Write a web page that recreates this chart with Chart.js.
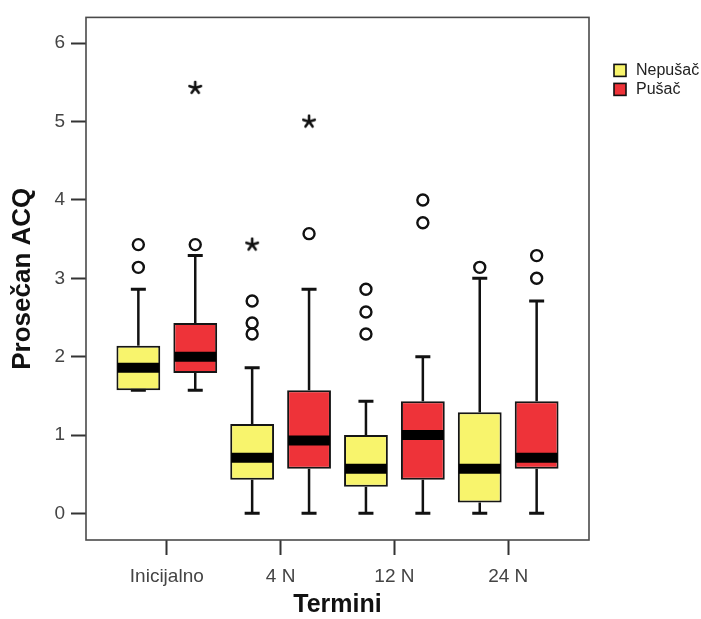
<!DOCTYPE html>
<html>
<head>
<meta charset="utf-8">
<script src="https://cdn.jsdelivr.net/npm/chart.js@4.4.0/dist/chart.umd.min.js"></script>
<style>
  html, body { margin: 0; padding: 0; background: #fff; }
</style>
</head>
<body>
<canvas id="acq" width="701" height="619"></canvas>
<script>
const categories = ['Inicijalno', '4 N', '12 N', '24 N'];
const seriesNames = ['Nepušač', 'Pušač'];
const seriesColors = ['#f8f46c', '#ee3339'];

// Nepušač: whisker ends, quartiles, median, outliers (o) and extremes (*)
const nMin = [1.57, 0, 0, 0];
const nQ1 = [1.57, 0.43, 0.34, 0.14];
const nMed = [1.86, 0.71, 0.57, 0.57];
const nQ3 = [2.14, 1.14, 1.0, 1.29];
const nMax = [2.86, 1.86, 1.43, 3.0];
const nOut = [[3.43, 3.14], [2.71, 2.43, 2.29], [2.86, 2.57, 2.29], [3.14]];
const nExt = [[], [3.43], [], []];

// Pušač
const pMin = [1.57, 0, 0, 0];
const pQ1 = [1.79, 0.57, 0.43, 0.57];
const pMed = [2.0, 0.93, 1.0, 0.71];
const pQ3 = [2.43, 1.57, 1.43, 1.43];
const pMax = [3.29, 2.86, 2.0, 2.71];
const pOut = [[3.43], [3.57], [4.0, 3.71], [3.29, 3.0]];
const pExt = [[5.43], [5.0], [], []];

const yTicks = [0, 1, 2, 3, 4, 5, 6];

const family = '"Liberation Sans", Arial, sans-serif';

const sets = [
  { label: seriesNames[0], color: seriesColors[0], min: nMin, q1: nQ1, med: nMed, q3: nQ3, max: nMax, out: nOut, ext: nExt },
  { label: seriesNames[1], color: seriesColors[1], min: pMin, q1: pQ1, med: pMed, q3: pQ3, max: pMax, out: pOut, ext: pExt }
];

// 5-armed star used for extreme values
function asteriskMark() {
  const c = document.createElement('canvas');
  c.width = c.height = 16;
  const g = c.getContext('2d');
  g.strokeStyle = '#111';
  g.lineWidth = 2.6;
  g.lineCap = 'round';
  for (let k = 0; k < 5; k++) {
    const a = -Math.PI / 2 + k * 2 * Math.PI / 5;
    g.beginPath();
    g.moveTo(8, 8);
    g.lineTo(8 + 6 * Math.cos(a), 8 + 6 * Math.sin(a));
    g.stroke();
  }
  return c;
}
const star = asteriskMark();

// each series sits a quarter category left/right of the tick
const shift = [-0.25, 0.25];

const datasets = [];
sets.forEach((s, k) => {
  datasets.push({
    type: 'bar',
    label: s.label,
    data: categories.map((c, i) => ({ x: i, y: [s.q1[i], s.q3[i]] })),
    backgroundColor: s.color,
    borderColor: '#151515',
    borderWidth: 2,
    borderSkipped: false,
    categoryPercentage: 1,
    barPercentage: 0.77
  });
});
sets.forEach((s, k) => {
  const pts = [], ext = [];
  categories.forEach((c, i) => {
    s.out[i].forEach(v => pts.push({ x: i + shift[k], y: v }));
    s.ext[i].forEach(v => ext.push({ x: i + shift[k], y: v }));
  });
  datasets.push({
    type: 'scatter', label: s.label + ' o', data: pts,
    pointStyle: 'circle', pointRadius: 5.5, pointBorderWidth: 2.4,
    pointBorderColor: '#111', pointBackgroundColor: 'rgba(0,0,0,0)'
  });
  datasets.push({
    type: 'scatter', label: s.label + ' *', data: ext,
    pointStyle: star, pointRadius: 8
  });
});

const boxPlot = {
  id: 'boxPlot',
  beforeDatasetsDraw(chart) {
    const ctx = chart.ctx, y = chart.scales.y;
    ctx.save();
    ctx.strokeStyle = '#111';
    sets.forEach((s, di) => {
      chart.getDatasetMeta(di).data.forEach((bar, i) => {
        const x = bar.x;
        const top = y.getPixelForValue(s.max[i]);
        const bot = y.getPixelForValue(s.min[i]);
        ctx.lineWidth = 2.5;
        ctx.beginPath();
        ctx.moveTo(x, y.getPixelForValue(s.q3[i]));
        ctx.lineTo(x, top);
        ctx.moveTo(x, y.getPixelForValue(s.q1[i]));
        ctx.lineTo(x, bot);
        ctx.stroke();
        ctx.lineWidth = 3;
        ctx.beginPath();
        ctx.moveTo(x - 7.5, top); ctx.lineTo(x + 7.5, top);
        ctx.moveTo(x - 7.5, bot); ctx.lineTo(x + 7.5, bot);
        ctx.stroke();
      });
    });
    ctx.restore();
  },
  afterDatasetsDraw(chart) {
    const ctx = chart.ctx, y = chart.scales.y;
    ctx.save();
    ctx.strokeStyle = '#000';
    ctx.lineWidth = 10;
    sets.forEach((s, di) => {
      chart.getDatasetMeta(di).data.forEach((bar, i) => {
        const m = y.getPixelForValue(s.med[i]);
        ctx.beginPath();
        ctx.moveTo(bar.x - bar.width / 2 + 1, m);
        ctx.lineTo(bar.x + bar.width / 2 - 1, m);
        ctx.stroke();
      });
    });
    ctx.restore();
  },
  afterDraw(chart) {
    const ctx = chart.ctx, a = chart.chartArea;
    ctx.save();
    ctx.strokeStyle = '#4a4a4a';
    ctx.lineWidth = 1.6;
    ctx.strokeRect(a.left, a.top, a.right - a.left, a.bottom - a.top);
    // legend
    const lx = a.right + 25, ly = a.top + 47;
    ctx.font = '16px ' + family;
    ctx.textBaseline = 'middle';
    sets.forEach((s, k) => {
      const t = ly + k * 19;
      ctx.fillStyle = s.color;
      ctx.fillRect(lx, t, 12, 12);
      ctx.strokeStyle = '#111';
      ctx.lineWidth = 1.6;
      ctx.strokeRect(lx, t, 12, 12);
      ctx.fillStyle = '#222';
      ctx.fillText(s.label, lx + 22, t + 6.5);
    });
    ctx.restore();
  }
};

new Chart(document.getElementById('acq'), {
  type: 'bar',
  data: { datasets: datasets },
  plugins: [boxPlot],
  options: {
    responsive: false,
    animation: false,
    events: [],
    layout: { padding: { top: 14, right: 112, left: 0, bottom: 0 } },
    plugins: { legend: { display: false }, tooltip: { enabled: false } },
    scales: {
      x: {
        type: 'linear',
        offset: false,
        min: -0.71,
        max: 3.71,
        afterBuildTicks: s => { s.ticks = categories.map((c, i) => ({ value: i })); },
        afterFit: s => { s.height = 79; },
        grid: { offset: false, drawOnChartArea: false, drawTicks: true, tickLength: 15, tickWidth: 2, tickColor: '#333' },
        border: { display: false },
        ticks: {
          callback: v => categories[v],
          font: { size: 19, family: family },
          color: '#444',
          padding: 10,
          maxRotation: 0,
          autoSkip: false
        },
        title: {
          display: true, text: 'Termini', color: '#111', padding: 0,
          font: { size: 25, weight: 'bold', family: family, lineHeight: 1.1 }
        }
      },
      y: {
        min: -0.34,
        max: 6.33,
        afterBuildTicks: s => { s.ticks = yTicks.map(v => ({ value: v })); },
        afterFit: s => { s.width = 86; },
        grid: { drawOnChartArea: false, drawTicks: true, tickLength: 15, tickWidth: 2, tickColor: '#333' },
        border: { display: false },
        ticks: { font: { size: 19, family: family }, color: '#444', padding: 6 },
        title: {
          display: true, text: 'Prosečan ACQ', color: '#111', padding: { top: 7, bottom: 0 },
          font: { size: 26, weight: 'bold', family: family }
        }
      }
    }
  }
});
</script>
</body>
</html>
